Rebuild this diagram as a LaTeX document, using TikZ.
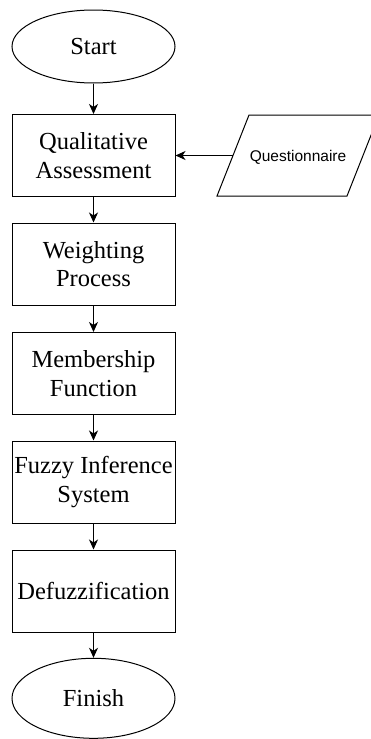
\documentclass[tikz,border=0pt]{standalone}
\usepackage{fontspec}
\setmainfont{Liberation Serif}
\newfontfamily\qsans{Liberation Sans}
\usetikzlibrary{shapes.geometric,arrows.meta}
\begin{document}
\begin{tikzpicture}[x=1pt,y=-1pt,
  every node/.style={font=\fontsize{24.5}{28.5}\selectfont},
  procbox/.style={draw, line width=1pt, minimum width=163pt, minimum height=82pt, inner sep=0pt, align=center},
  termbox/.style={draw, ellipse, line width=1pt, minimum width=163pt, inner sep=0pt},
  flow/.style={-{Stealth[length=10pt,width=9pt,inset=3pt]}, line width=1pt}
]
\useasboundingbox (0,0) rectangle (371,739);
\clip (0,0) rectangle (371,739);
\node[termbox, minimum height=73pt] (start) at (93.5,46.5) {Start};
\node[procbox] (qa) at (93.5,155.5) {Qualitative\\Assessment};
\node[procbox] (wp) at (93.5,264) {Weighting\\Process};
\node[procbox] (mf) at (93.5,373.5) {Membership\\Function};
\node[procbox] (fis) at (93.5,482) {Fuzzy Inference\\System};
\node[procbox] (dz) at (93.5,591) {Defuzzification};
\node[termbox, minimum height=80pt] (fin) at (93.5,698.3) {Finish};
\draw[line width=1pt] (249,115) -- (379,115) -- (347,196) -- (217,196) -- cycle;
\node[font=\qsans\fontsize{15.5}{18}\selectfont] (q) at (298,157) {Questionnaire};
\coordinate (qin) at (233,155.5);
\draw[flow] (start) -- (qa);
\draw[flow] (qa) -- (wp);
\draw[flow] (wp) -- (mf);
\draw[flow] (mf) -- (fis);
\draw[flow] (fis) -- (dz);
\draw[flow] (dz) -- (fin);
\draw[flow] (qin) -- (qa);
\end{tikzpicture}
\end{document}
